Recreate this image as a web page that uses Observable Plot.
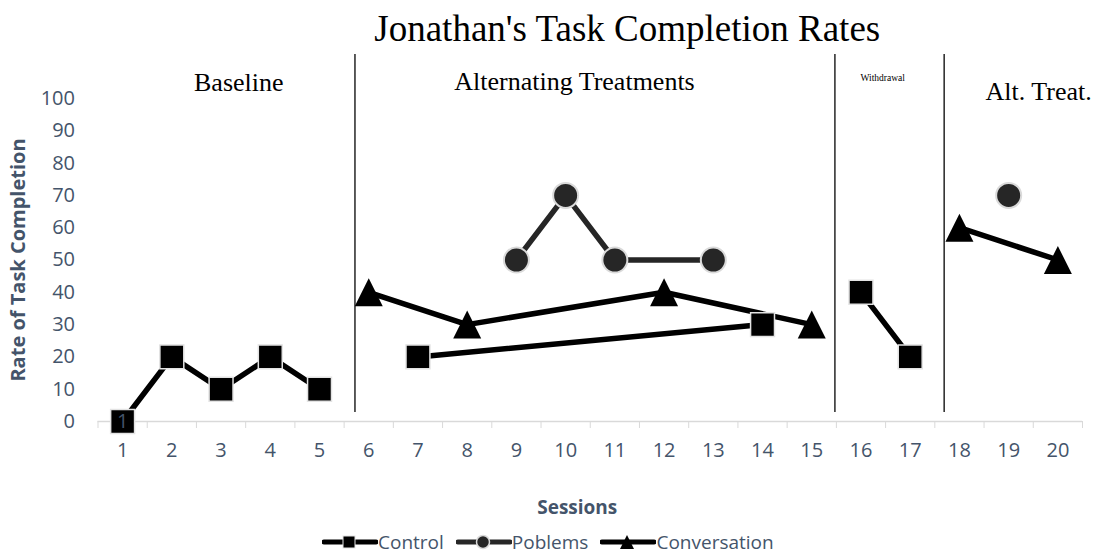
<!DOCTYPE html>
<html>
<head>
<meta charset="utf-8">
<script src="https://cdn.jsdelivr.net/npm/d3@7"></script>
<script src="https://cdn.jsdelivr.net/npm/@observablehq/plot@0.6"></script>
<style>
  body { margin: 0; background: white; }
  #legend { display: flex; align-items: center; height: 34px; margin-left: 322px; font-family: "Open Sans", sans-serif; font-size: 19px; color: #44546A; }
  #legend .item { display: flex; align-items: center; margin-right: 12px; }
  #legend svg { margin-right: 0px; }
</style>
</head>
<body>
<div id="chart"></div>
<div id="legend"></div>
<script>
const title = "Jonathan's Task Completion Rates";
const sessions = d3.range(1, 21);
const yTicks = d3.range(0, 101, 10);

const controlSessions = [1, 2, 3, 4, 5, 7, 14, 16, 17];
const controlValues   = [0, 20, 10, 20, 10, 20, 30, 40, 20];
const controlSegments = [1, 1, 1, 1, 1, 2, 2, 3, 3];

const problemSessions = [9, 10, 11, 13, 19];
const problemValues   = [50, 70, 50, 50, 70];
const problemSegments = [1, 1, 1, 1, 2];

const conversationSessions = [6, 8, 12, 15, 18, 20];
const conversationValues   = [40, 30, 40, 30, 60, 50];
const conversationSegments = [1, 1, 1, 1, 2, 2];

const phaseNames  = ["Baseline", "Alternating Treatments", "Withdrawal", "Alt. Treat."];
const phaseLabelX = [3.36, 10.18, 16.44, 19.61];
const phaseLabelY = [104.9, 105.3, 106.5, 102.2];
const phaseLabelSize = [26, 26, 9.5, 26];
const phaseChanges = [5.72, 15.47, 17.69];

const seriesNames = ["Control", "Poblems", "Conversation"];

const toRows = (s, v, g) => s.map((d, i) => ({session: d, value: v[i], segment: g[i]}));
const control = toRows(controlSessions, controlValues, controlSegments);
const problems = toRows(problemSessions, problemValues, problemSegments);
const conversation = toRows(conversationSessions, conversationValues, conversationSegments);
const phaseLabels = phaseNames.map((n, i) => ({name: n, x: phaseLabelX[i], y: phaseLabelY[i], size: phaseLabelSize[i]}));

const triangle = {
  draw(context, size) {
    const r = Math.sqrt(size / Math.PI);
    context.moveTo(0, -r);
    context.lineTo(r, r);
    context.lineTo(-r, r);
    context.closePath();
  }
};

const axisColor = "#44546A";

const chart = Plot.plot({
  width: 1102,
  height: 525,
  marginLeft: 97.5,
  marginRight: 20,
  marginTop: 98,
  marginBottom: 104,
  x: {domain: [0.5, 20.5]},
  y: {domain: [0, 100]},
  style: {fontFamily: "'Open Sans', sans-serif", background: "white"},
  marks: [
    Plot.axisY(yTicks, {tickSize: 0, tickPadding: 23, fontSize: 20, fill: axisColor, label: null}),
    Plot.axisX(d3.range(0.5, 21, 1), {tickSize: 7, stroke: "#D9D9D9", tickFormat: () => "", label: null}),
    Plot.axisX(sessions, {tickSize: 0, tickPadding: 21, fontSize: 20, fill: axisColor, label: null}),
    Plot.ruleY([0], {stroke: "#D9D9D9", strokeWidth: 1.5}),
    Plot.ruleX(phaseChanges, {y1: 2.8, y2: 113.6, stroke: "#333", strokeWidth: 1.6}),
    Plot.text(phaseLabels, {x: "x", y: "y", text: "name", fontSize: "size", fontFamily: "'Liberation Serif', 'Times New Roman', serif", fill: "black"}),
    Plot.text([title], {frameAnchor: "top", dx: 37, dy: -84, fontSize: 37, fontFamily: "'Liberation Serif', 'Times New Roman', serif", fill: "black"}),
    Plot.text(["Rate of Task Completion"], {frameAnchor: "left", textAnchor: "middle", dx: -79, rotate: -90, fontWeight: "bold", fontSize: 20, fill: axisColor}),
    Plot.text(["Sessions"], {frameAnchor: "bottom", dx: -13, dy: 92, fontWeight: "bold", fontSize: 19, fill: axisColor}),
    Plot.line(control, {x: "session", y: "value", z: "segment", stroke: "black", strokeWidth: 5.5}),
    Plot.line(problems, {x: "session", y: "value", z: "segment", stroke: "#262626", strokeWidth: 5.5}),
    Plot.line(conversation, {x: "session", y: "value", z: "segment", stroke: "black", strokeWidth: 5.5}),
    Plot.dot(control, {x: "session", y: "value", symbol: "square", r: 13.5, fill: "black", stroke: "#E3E3E3", strokeWidth: 1.5}),
    Plot.dot(problems, {x: "session", y: "value", symbol: "circle", r: 12.5, fill: "#262626", stroke: "#DADADA", strokeWidth: 2}),
    Plot.dot(conversation, {x: "session", y: "value", symbol: triangle, r: 14, fill: "black"}),
    Plot.text(control.slice(0, 1), {x: "session", y: "value", text: d => String(d.session), fontSize: 20, fill: axisColor})
  ]
});
document.getElementById("chart").appendChild(chart);

const legendSymbols = [
  `<rect x="21" y="7" width="12" height="12" fill="black" stroke="#E3E3E3" stroke-width="1"/>`,
  `<circle cx="27" cy="13" r="6.5" fill="#262626" stroke="#DADADA" stroke-width="1.5"/>`,
  `<path d="M27,6 L34,20 L20,20 Z" fill="black"/>`
];
const legendColors = ["black", "#262626", "black"];
const legend = document.getElementById("legend");
seriesNames.forEach((name, i) => {
  const item = document.createElement("div");
  item.className = "item";
  item.innerHTML = `<svg width="56" height="26"><line x1="2" x2="54" y1="13" y2="13" stroke="${legendColors[i]}" stroke-width="5" stroke-linecap="round"/>${legendSymbols[i]}</svg><span>${name}</span>`;
  legend.appendChild(item);
});
</script>
</body>
</html>
